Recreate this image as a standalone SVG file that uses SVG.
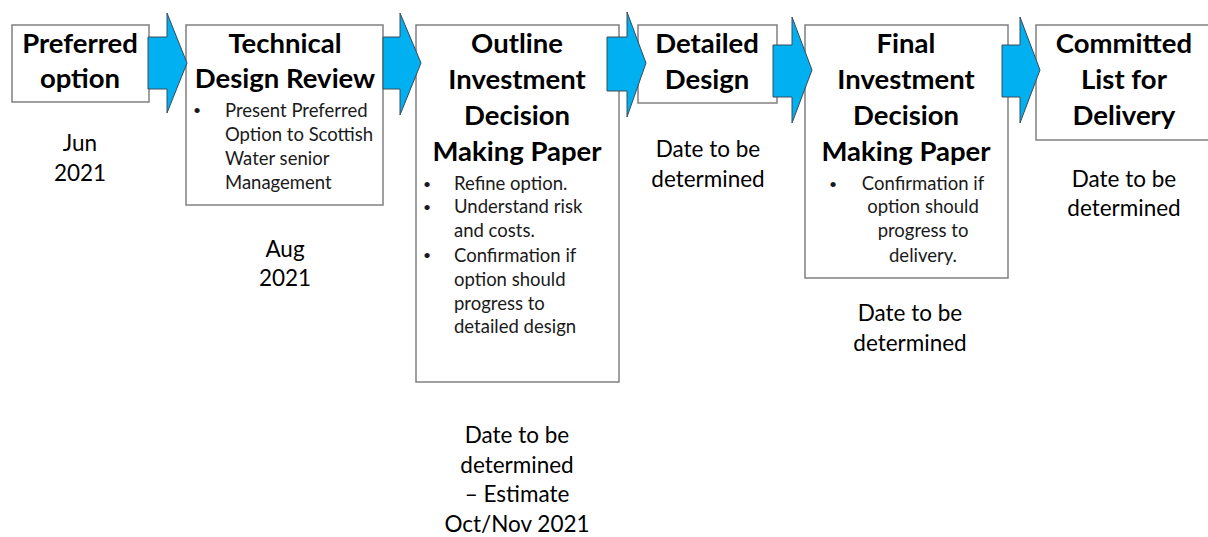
<svg xmlns="http://www.w3.org/2000/svg" width="1208" height="537" viewBox="0 0 1208 537">
<style>
.box{fill:#ffffff;stroke:#808080;stroke-width:1.5}
.arrow{fill:#00B0F0;stroke:#3a4a5a;stroke-width:1}
.t{font-family:Lato,"Open Sans","Liberation Sans",sans-serif;font-weight:bold;font-size:27.5px;fill:#000;text-anchor:middle}
.b{font-family:Lato,"Open Sans","Liberation Sans",sans-serif;font-size:18.5px;fill:#1a1a1a}
.bc{font-family:Lato,"Open Sans","Liberation Sans",sans-serif;font-size:18.5px;fill:#1a1a1a;text-anchor:middle}
.dot{font-family:Lato,"Open Sans","Liberation Sans",sans-serif;font-size:14px;fill:#1a1a1a}
.d{font-family:Lato,"Open Sans","Liberation Sans",sans-serif;font-size:22.5px;fill:#000;text-anchor:middle}
</style>
<rect width="1208" height="537" fill="#ffffff"/>
<g id="node-preferred">
<rect class="box" x="12" y="25" width="137" height="77"/>
<text class="t" x="80" y="53">Preferred</text>
<text class="t" x="80" y="88">option</text>
<text class="d" x="80" y="151">Jun</text>
<text class="d" x="80" y="181">2021</text>
</g>
<g id="node-tdr">
<rect class="box" x="186" y="25" width="197" height="180"/>
<text class="t" x="285" y="53">Technical</text>
<text class="t" x="285" y="88">Design Review</text>
<text class="dot" x="193" y="115">•</text>
<text class="b" x="225" y="117">Present Preferred</text>
<text class="b" x="225" y="141">Option to Scottish</text>
<text class="b" x="225" y="165">Water senior</text>
<text class="b" x="225" y="189">Management</text>
<text class="d" x="285" y="257">Aug</text>
<text class="d" x="285" y="286">2021</text>
</g>
<g id="node-oidmp">
<rect class="box" x="416" y="25" width="203" height="357"/>
<text class="t" x="517" y="53">Outline</text>
<text class="t" x="517" y="89">Investment</text>
<text class="t" x="517" y="125">Decision</text>
<text class="t" x="517" y="161">Making Paper</text>
<text class="dot" x="423" y="189">•</text>
<text class="b" x="454" y="190">Refine option.</text>
<text class="dot" x="423" y="212">•</text>
<text class="b" x="454" y="213">Understand risk</text>
<text class="b" x="454" y="237">and costs.</text>
<text class="dot" x="423" y="260">•</text>
<text class="b" x="454" y="262">Confirmation if</text>
<text class="b" x="454" y="286">option should</text>
<text class="b" x="454" y="310">progress to</text>
<text class="b" x="454" y="333">detailed design</text>
<text class="d" x="517" y="443">Date to be</text>
<text class="d" x="517" y="473">determined</text>
<text class="d" x="517" y="502">– Estimate</text>
<text class="d" x="517" y="532">Oct/Nov 2021</text>
</g>
<g id="node-detailed">
<rect class="box" x="638" y="25" width="139" height="78"/>
<text class="t" x="707" y="53">Detailed</text>
<text class="t" x="707" y="89">Design</text>
<text class="d" x="708" y="157">Date to be</text>
<text class="d" x="708" y="187">determined</text>
</g>
<g id="node-fidmp">
<rect class="box" x="805" y="25" width="203" height="253"/>
<text class="t" x="906" y="53">Final</text>
<text class="t" x="906" y="89">Investment</text>
<text class="t" x="906" y="125">Decision</text>
<text class="t" x="906" y="161">Making Paper</text>
<text class="dot" x="829" y="189">•</text>
<text class="bc" x="923" y="190">Confirmation if</text>
<text class="bc" x="923" y="213">option should</text>
<text class="bc" x="923" y="237">progress to</text>
<text class="bc" x="923" y="262">delivery.</text>
<text class="d" x="910" y="321">Date to be</text>
<text class="d" x="910" y="351">determined</text>
</g>
<g id="node-committed">
<rect class="box" x="1036" y="25" width="180" height="115"/>
<text class="t" x="1124" y="53">Committed</text>
<text class="t" x="1124" y="89">List for</text>
<text class="t" x="1124" y="125">Delivery</text>
<text class="d" x="1124" y="187">Date to be</text>
<text class="d" x="1124" y="216">determined</text>
</g>
<g id="connectors">
<path class="arrow" d="M148,37 H167 V13 L187,63 L167,113 V89 H148 Z"/>
<path class="arrow" d="M383,37 H400 V13 L421,63 L400,115 V89 H383 Z"/>
<path class="arrow" d="M607,37 H627 V12 L646,63 L627,117 V91 H607 Z"/>
<path class="arrow" d="M773,45 H792 V17 L812,70 L792,123 V97 H773 Z"/>
<path class="arrow" d="M1002,45 H1020 V17 L1040,70 L1020,123 V97 H1002 Z"/>
</g>
</svg>
